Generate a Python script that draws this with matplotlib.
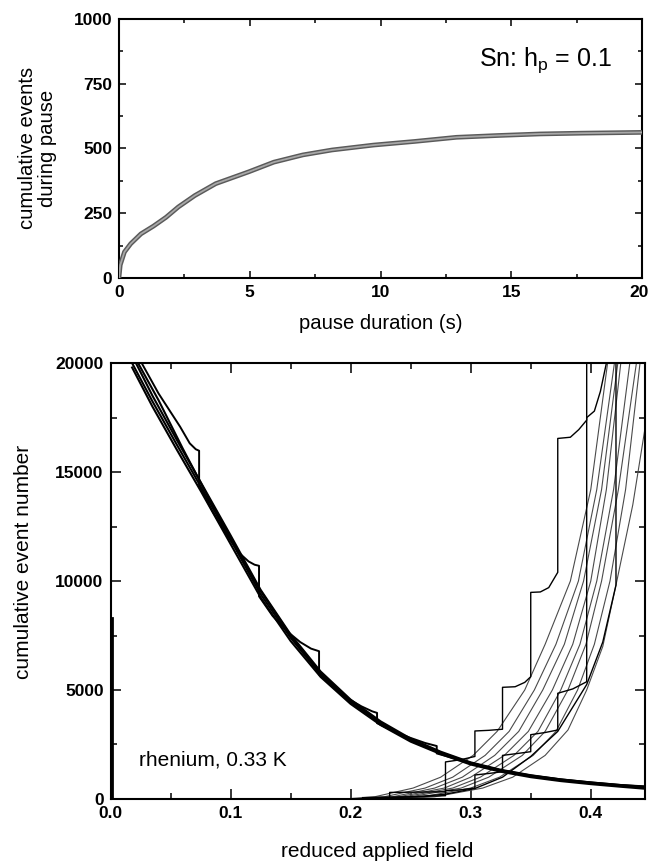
import matplotlib
matplotlib.use("Agg")
import matplotlib.pyplot as plt
from matplotlib.ticker import MultipleLocator
from matplotlib.transforms import offset_copy

plt.rcParams['font.family'] = ['Liberation Sans', 'DejaVu Sans']
plt.rcParams['mathtext.fontset'] = 'custom'
plt.rcParams['mathtext.rm'] = 'Liberation Sans'
plt.rcParams['mathtext.it'] = 'Liberation Sans'

# ---------------- top panel data (Sn, h_p = 0.1) ----------------
pause_t = [0, 0.05, 0.21, 0.45, 0.84, 1.32, 1.8, 2.27, 2.9, 3.7, 4.97, 5.92,
           7.03, 8.14, 9.73, 11.3, 12.9, 14.5, 16.1, 17.7, 20.0]
pause_events = [0, 50, 100, 132, 170, 200, 234, 274, 318, 364, 410, 447,
                475, 494, 513, 527, 543, 550, 556, 559, 562]

# ---------------- bottom panel data (rhenium, 0.33 K) ----------------
# decreasing branch (thick black)
dec_x = [0.018, 0.035, 0.055, 0.075, 0.1, 0.125, 0.15, 0.175, 0.2, 0.225,
         0.25, 0.275, 0.3, 0.325, 0.35, 0.375, 0.4, 0.425, 0.445]
dec_1 = [20000, 18240, 16280, 14350, 11900, 9400, 7400, 5700, 4440, 3460,
         2690, 2110, 1620, 1290, 1040, 860, 720, 600, 520]
dec_2 = [20350, 18500, 16500, 14550, 12100, 9600, 7550, 5850, 4560, 3560,
         2770, 2170, 1680, 1340, 1090, 900, 760, 640, 560]
dec_3 = [19800, 18000, 16050, 14150, 11700, 9250, 7250, 5600, 4360, 3390,
         2630, 2060, 1580, 1250, 1000, 820, 680, 560, 470]
dec_4_x = [0.023, 0.04, 0.06, 0.08, 0.1, 0.125, 0.15, 0.175, 0.2, 0.225,
           0.25, 0.275, 0.3, 0.325, 0.35, 0.375, 0.4, 0.425, 0.445]
dec_4 = [20000, 18300, 16100, 14000, 12000, 9550, 7500, 5780, 4500, 3500,
         2720, 2130, 1650, 1310, 1060, 880, 740, 620, 540]
# decreasing branch with pauses (steps)
dstep_x = [0.026, 0.040, 0.058, 0.066, 0.071, 0.0738, 0.0738, 0.085, 0.097,
           0.107, 0.115, 0.120, 0.1237, 0.1237, 0.135, 0.147, 0.158, 0.167,
           0.1737, 0.1737, 0.186, 0.198, 0.209, 0.218, 0.222, 0.222, 0.236,
           0.250, 0.262, 0.2717, 0.2717, 0.30, 0.325, 0.35, 0.375, 0.40,
           0.425, 0.445]
dstep_y = [20000, 18610, 17080, 16320, 16050, 15980, 14400, 13200, 12100,
           11300, 10900, 10750, 10700, 9300, 8400, 7700, 7200, 6900,
           6780, 5720, 5100, 4600, 4250, 4020, 3950, 3480, 3100,
           2800, 2570, 2430, 2090, 1650, 1320, 1080, 900, 760,
           640, 580]
start_x = [0.001, 0.001]
start_y = [0, 8300]

# increasing branch with pauses (staircases)
inc_s1_x = [0.2325, 0.2325, 0.279, 0.279, 0.2915, 0.3035, 0.3035, 0.315,
            0.3265, 0.3265, 0.337, 0.345, 0.350, 0.350, 0.358, 0.365,
            0.3725, 0.3725, 0.383, 0.390, 0.3966, 0.3966]
inc_s1_y = [0, 300, 330, 1700, 1800, 1950, 3120, 3150, 3200, 5124, 5150,
            5350, 5610, 9480, 9500, 9700, 10400, 16545, 16600, 16950,
            17385, 21000]
inc_s2_x = [0.21, 0.25, 0.279, 0.279, 0.292, 0.3035, 0.3035, 0.315, 0.3265,
            0.3265, 0.338, 0.350, 0.350, 0.362, 0.3725, 0.3725, 0.385,
            0.3966, 0.3966, 0.403, 0.408, 0.413, 0.416]
inc_s2_y = [60, 100, 150, 380, 420, 500, 1100, 1170, 1250, 2000, 2080, 2170,
            2950, 3050, 3165, 4850, 5050, 5380, 17500, 17800, 18700, 20000,
            21000]
inc_s3_x = [0.21, 0.235, 0.255, 0.279, 0.3035, 0.3265, 0.350, 0.3725,
            0.3966, 0.41, 0.421, 0.421]
inc_s3_y = [60, 70, 100, 220, 480, 1000, 1950, 3100, 5250, 7200, 9816, 21000]

# increasing branch, continuous sweeps (thin grey)
inc_a_x = [0.195, 0.22, 0.252, 0.275, 0.302, 0.322, 0.345, 0.362, 0.383, 0.400, 0.414, 0.420]
inc_b_x = [0.20, 0.228, 0.262, 0.285, 0.312, 0.332, 0.353, 0.371, 0.3897, 0.405, 0.4197, 0.425]
inc_c_x = [0.205, 0.235, 0.27, 0.293, 0.320, 0.340, 0.360, 0.378, 0.394, 0.409, 0.4225, 0.428]
inc_d_x = [0.21, 0.24, 0.278, 0.30, 0.328, 0.348, 0.368, 0.385, 0.400, 0.413, 0.425, 0.430]
inc_e_x = [0.215, 0.245, 0.285, 0.308, 0.336, 0.356, 0.375, 0.391, 0.405, 0.419, 0.4325, 0.437]
inc_f_x = [0.22, 0.25, 0.292, 0.315, 0.343, 0.362, 0.381, 0.396, 0.409, 0.423, 0.438, 0.443]
inc_g_x = [0.23, 0.26, 0.30, 0.324, 0.352, 0.371, 0.389, 0.403, 0.416, 0.429, 0.441, 0.446]
inc_levels = [0, 100, 500, 1000, 2000, 3100, 5000, 7100, 10000, 14200, 20000, 22500]
inc_h_x = [0.24, 0.27, 0.31, 0.335, 0.362, 0.381, 0.3966, 0.41, 0.4217, 0.435, 0.4467]
inc_h_y = [0, 100, 500, 1000, 2000, 3165, 5000, 7000, 10000, 13500, 17540]

top_xticks = [0, 5, 10, 15, 20]
top_yticks = [0, 250, 500, 750, 1000]
bot_xticks = [0.0, 0.1, 0.2, 0.3, 0.4]
bot_yticks = [0, 5000, 10000, 15000, 20000]

# ---------------- figure ----------------
fig = plt.figure(figsize=(6.5, 8.63), dpi=100)
ax1 = fig.add_axes([0.183, 0.678, 0.805, 0.300])
ax2 = fig.add_axes([0.170, 0.0742, 0.822, 0.505])

tick_fs = 12.5


def style(ax, major, minor):
    for s in ax.spines.values():
        s.set_linewidth(1.5)
    ax.tick_params(which='both', direction='in', top=True, right=True,
                   width=1.1, labelsize=tick_fs, pad=5)
    ax.tick_params(which='major', length=major)
    ax.tick_params(which='minor', length=minor)
    for lab in ax.get_xticklabels() + ax.get_yticklabels():
        lab.set_fontweight('bold')


# top panel
ax1.plot(pause_t, pause_events, color='#5a5a5a', lw=3.4, solid_capstyle='round',
         zorder=3)
ax1.plot(pause_t, pause_events, color='#a8a8a8', lw=1.3, zorder=4)
ax1.set_xlim(0, 20)
ax1.set_ylim(0, 1000)
ax1.set_xticks(top_xticks)
ax1.set_yticks(top_yticks)
ax1.xaxis.set_minor_locator(MultipleLocator(2.5))
ax1.yaxis.set_minor_locator(MultipleLocator(125))
# last x tick label ("20") is drawn separately, nudged to stay inside the figure
ax1.set_xticklabels([str(v) for v in top_xticks[:-1]] + [''])
ax1.set_yticklabels([str(v) for v in top_yticks])
style(ax1, 4.8, 3.1)
ax1.text(top_xticks[-1], 0, str(top_xticks[-1]),
         transform=offset_copy(ax1.get_xaxis_transform(), fig=fig,
                               x=-3, y=-7, units='dots'),
         ha='center', va='top', fontsize=tick_fs, fontweight='bold')
ax1.set_xlabel('pause duration (s)', fontsize=14.6, labelpad=10)
ax1.set_ylabel('cumulative events\nduring pause', fontsize=14.6,
               linespacing=1.1)
ax1.yaxis.set_label_coords(-0.118, 0.5)
ax1.text(0.943, 0.818, r'Sn: h$_{\rm p}$ = 0.1', transform=ax1.transAxes,
         ha='right', va='baseline', fontsize=18)

# bottom panel
dec_kw = dict(color='black', lw=1.5, zorder=3)
ax2.plot(dec_x, dec_1, **dec_kw)
ax2.plot(dec_x, dec_2, **dec_kw)
ax2.plot(dec_x, dec_3, **dec_kw)
ax2.plot(dec_4_x, dec_4, **dec_kw)
ax2.plot(dstep_x, dstep_y, color='black', lw=1.4, zorder=3)
ax2.plot(start_x, start_y, color='black', lw=2.0, zorder=3)

grey_kw = dict(color='#4a4a4a', lw=0.8, zorder=2)
for xs in (inc_a_x, inc_b_x, inc_c_x, inc_d_x, inc_e_x, inc_f_x, inc_g_x):
    ax2.plot(xs, inc_levels, **grey_kw)
ax2.plot(inc_h_x, inc_h_y, **grey_kw)

stair_kw = dict(color='black', lw=1.0, zorder=2)
ax2.plot(inc_s1_x, inc_s1_y, **stair_kw)
ax2.plot(inc_s2_x, inc_s2_y, **stair_kw)
ax2.plot(inc_s3_x, inc_s3_y, **stair_kw)

ax2.set_xlim(0, 0.445)
ax2.set_ylim(0, 20000)
ax2.set_xticks(bot_xticks)
ax2.set_yticks(bot_yticks)
ax2.xaxis.set_minor_locator(MultipleLocator(0.05))
ax2.yaxis.set_minor_locator(MultipleLocator(2500))
ax2.set_xticklabels(['%.1f' % v for v in bot_xticks])
ax2.set_yticklabels([str(v) for v in bot_yticks])
style(ax2, 7.2, 4.3)
ax2.set_xlabel('reduced applied field', fontsize=15, labelpad=15)
ax2.set_ylabel('cumulative event number', fontsize=15)
ax2.yaxis.set_label_coords(-0.145, 0.544)
ax2.text(0.0535, 0.0757, 'rhenium, 0.33 K', transform=ax2.transAxes,
         ha='left', va='baseline', fontsize=15)

fig.savefig('out.png', dpi=100)
